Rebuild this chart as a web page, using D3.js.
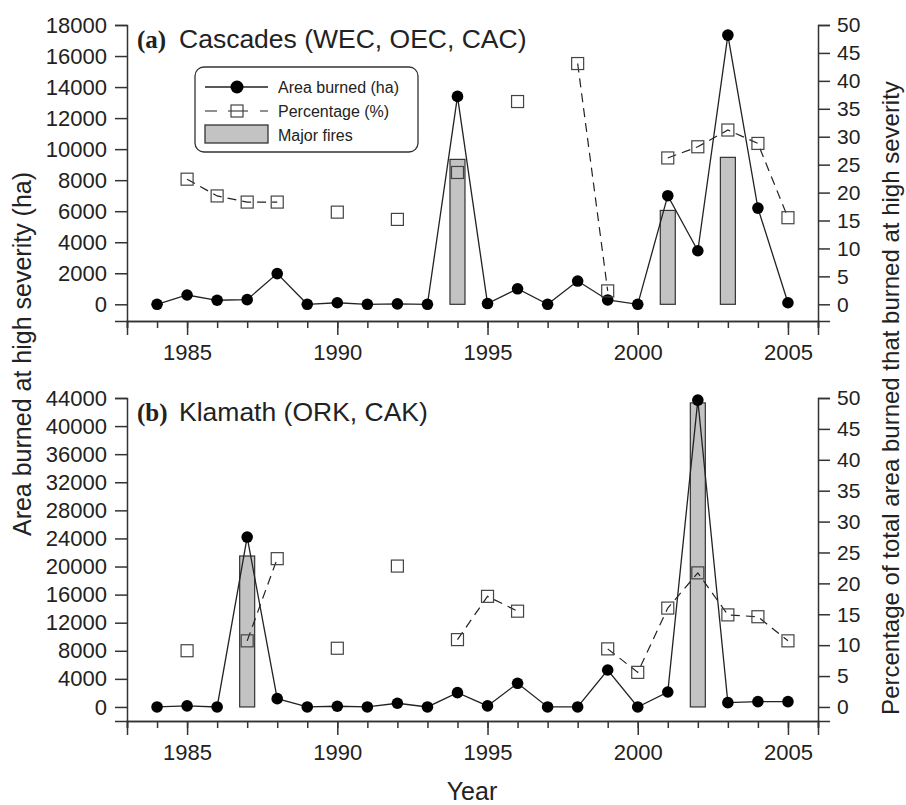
<!DOCTYPE html>
<html>
<head>
<meta charset="utf-8">
<script src="https://cdn.jsdelivr.net/npm/d3@7"></script>
<style>
  body { margin: 0; background: #fff; }
  text { font-family: "Liberation Sans", Arial, sans-serif; fill: #222; }
</style>
</head>
<body>
<script>
let w = 906;
let h = 805;

// data
let years = [1984,1985,1986,1987,1988,1989,1990,1991,1992,1993,1994,1995,1996,1997,1998,1999,2000,2001,2002,2003,2004,2005];
let labelYears = [1985,1990,1995,2000,2005];
let minorYears = [1983,1984,1985,1986,1987,1988,1989,1990,1991,1992,1993,1994,1995,1996,1997,1998,1999,2000,2001,2002,2003,2004,2005,2006];

// (a) Cascades
let areaA = [0,600,260,300,1980,0,100,0,30,0,13400,50,1000,0,1500,280,0,7000,3450,17350,6200,100];
let pctA = [null,22.4,19.4,18.3,18.3,null,16.5,null,15.2,null,23.6,null,36.3,null,43.1,2.4,null,26.2,28.2,31.2,28.8,15.5];
let fireYearsA = [1994,2001,2003];
let fireAreaA = [9340,6050,9470];
let leftTicksA = [0,2000,4000,6000,8000,10000,12000,14000,16000,18000];

// (b) Klamath
let areaB = [0,150,0,24200,1180,0,100,0,530,0,2040,150,3370,0,0,5260,0,2130,43700,610,760,760];
let pctB = [null,9.1,null,10.7,24.0,null,9.5,null,22.8,null,10.9,17.9,15.5,null,null,9.4,5.6,16.0,21.7,14.9,14.6,10.7];
let fireYearsB = [1987,2002];
let fireAreaB = [21500,43300];
let leftTicksB = [0,4000,8000,12000,16000,20000,24000,28000,32000,36000,40000,44000];

let rightTicks = [0,5,10,15,20,25,30,35,40,45,50];

let svg = d3.select("body")
            .append("svg")
            .attr("width", w)
            .attr("height", h);

let x = d3.scaleLinear().domain([1983, 2006]).range([127, 818]);

function panel(opt) {
  let yL = d3.scaleLinear().domain([opt.yMin, opt.yMax]).range([opt.bottom, opt.top]);
  let yR = d3.scaleLinear().domain([opt.yMin * 50 / opt.yMax, 50]).range([opt.bottom, opt.top]);
  let g = svg.append("g");

  // bars for major fires
  g.selectAll("rect.fire")
    .data(opt.fireYears)
    .enter()
    .append("rect")
      .attr("class", "fire")
      .attr("x", d => x(d) - 7.5)
      .attr("y", (d, i) => yL(opt.fireArea[i]))
      .attr("width", 15)
      .attr("height", (d, i) => yL(0) - yL(opt.fireArea[i]))
      .attr("fill", "#c3c3c3")
      .attr("stroke", "#333")
      .attr("stroke-width", 1.2);

  // area burned line + dots
  let line = d3.line().x((d, i) => x(years[i])).y(d => yL(d));
  g.append("path")
    .attr("d", line(opt.area))
    .attr("fill", "none")
    .attr("stroke", "#222")
    .attr("stroke-width", 1.3);
  g.selectAll("circle")
    .data(opt.area)
    .enter()
    .append("circle")
      .attr("cx", (d, i) => x(years[i]))
      .attr("cy", d => yL(d))
      .attr("r", 5.8)
      .attr("fill", "#000");

  // percentage dashed line + squares (gaps where no fire)
  let pline = d3.line()
    .defined(d => d != null)
    .x((d, i) => x(years[i]))
    .y(d => yR(d));
  g.append("path")
    .attr("d", pline(opt.pct))
    .attr("fill", "none")
    .attr("stroke", "#222")
    .attr("stroke-width", 1.2)
    .attr("stroke-dasharray", "9,6");
  g.selectAll("rect.pct")
    .data(opt.pct.map((d, i) => [years[i], d]).filter(d => d[1] != null))
    .enter()
    .append("rect")
      .attr("class", "pct")
      .attr("x", d => x(d[0]) - 6)
      .attr("y", d => yR(d[1]) - 6)
      .attr("width", 12)
      .attr("height", 12)
      .attr("fill", "none")
      .attr("stroke", "#444")
      .attr("stroke-width", 1.2);

  // axes
  let axL = g.append("g")
    .attr("transform", "translate(127,0)")
    .call(d3.axisLeft(yL).tickValues(opt.leftTicks).tickFormat(d3.format("d")).tickSizeOuter(0).tickSize(12).tickPadding(8));
  let axR = g.append("g")
    .attr("transform", "translate(818,0)")
    .call(d3.axisRight(yR).tickValues(rightTicks).tickSizeOuter(0).tickSize(12).tickPadding(7));
  let axMinor = g.append("g")
    .attr("transform", "translate(0," + opt.bottom + ")")
    .call(d3.axisBottom(x).tickValues(minorYears).tickFormat("").tickSizeOuter(0).tickSize(7));
  let axMajor = g.append("g")
    .attr("transform", "translate(0," + opt.bottom + ")")
    .call(d3.axisBottom(x).tickValues(labelYears).tickFormat(d3.format("d")).tickSizeOuter(0).tickSize(14).tickPadding(9));
  [axL, axR, axMinor, axMajor].forEach(a => {
    a.selectAll("path, line").attr("stroke", "#333").attr("stroke-width", 1.5);
    a.selectAll("text").attr("fill", "#222").style("font-family", "Liberation Sans, Arial, sans-serif");
  });
  axL.selectAll("text").style("font-size", "22px");
  axR.selectAll("text").style("font-size", "21px");
  axMajor.selectAll("text").style("font-size", "22px");

  // panel title
  let t = g.append("text")
    .attr("x", 137)
    .attr("y", opt.top + 23);
  t.append("tspan")
    .style("font-family", "Liberation Serif, Times New Roman, serif")
    .style("font-weight", "bold")
    .style("font-size", "25px")
    .text(opt.letter);
  t.append("tspan")
    .attr("x", 179)
    .style("font-size", "26.5px")
    .text(opt.title);
}

panel({
  top: 25, bottom: 321, yMin: -1076, yMax: 18000,
  area: areaA, pct: pctA, fireYears: fireYearsA, fireArea: fireAreaA,
  leftTicks: leftTicksA, letter: "(a)", title: "Cascades (WEC, OEC, CAC)"
});
panel({
  top: 398, bottom: 721, yMin: -2000, yMax: 44000,
  area: areaB, pct: pctB, fireYears: fireYearsB, fireArea: fireAreaB,
  leftTicks: leftTicksB, letter: "(b)", title: "Klamath (ORK, CAK)"
});

// legend
let lg = svg.append("g");
lg.append("rect")
  .attr("x", 195).attr("y", 67).attr("width", 223).attr("height", 85)
  .attr("rx", 9)
  .attr("fill", "#fff").attr("stroke", "#333").attr("stroke-width", 1.3);
lg.append("line").attr("x1", 205).attr("x2", 268).attr("y1", 87).attr("y2", 87)
  .attr("stroke", "#222").attr("stroke-width", 1.3);
lg.append("circle").attr("cx", 237).attr("cy", 87).attr("r", 6.5).attr("fill", "#000");
lg.append("line").attr("x1", 205).attr("x2", 268).attr("y1", 111).attr("y2", 111)
  .attr("stroke", "#222").attr("stroke-width", 1.2).attr("stroke-dasharray", "12,11,20,12,10");
lg.append("rect").attr("x", 231).attr("y", 105).attr("width", 12).attr("height", 12)
  .attr("fill", "none").attr("stroke", "#444").attr("stroke-width", 1.2);
lg.append("rect").attr("x", 205).attr("y", 125).attr("width", 63).attr("height", 18)
  .attr("fill", "#c3c3c3").attr("stroke", "#333").attr("stroke-width", 1.3);
let legendLabels = ["Area burned (ha)", "Percentage (%)", "Major fires"];
lg.selectAll("text")
  .data(legendLabels)
  .enter()
  .append("text")
    .attr("x", 278)
    .attr("y", (d, i) => 93 + i * 24)
    .style("font-size", "16px")
    .text(d => d);

// axis titles
svg.append("text")
  .attr("transform", "translate(31,354) rotate(-90)")
  .attr("text-anchor", "middle")
  .style("font-size", "25px")
  .text("Area burned at high severity (ha)");
svg.append("text")
  .attr("transform", "translate(899,398) rotate(-90)")
  .attr("text-anchor", "middle")
  .style("font-size", "24px")
  .text("Percentage of total area burned that burned at high severity");
svg.append("text")
  .attr("x", 472)
  .attr("y", 800)
  .attr("text-anchor", "middle")
  .style("font-size", "25px")
  .text("Year");
</script>
</body>
</html>
